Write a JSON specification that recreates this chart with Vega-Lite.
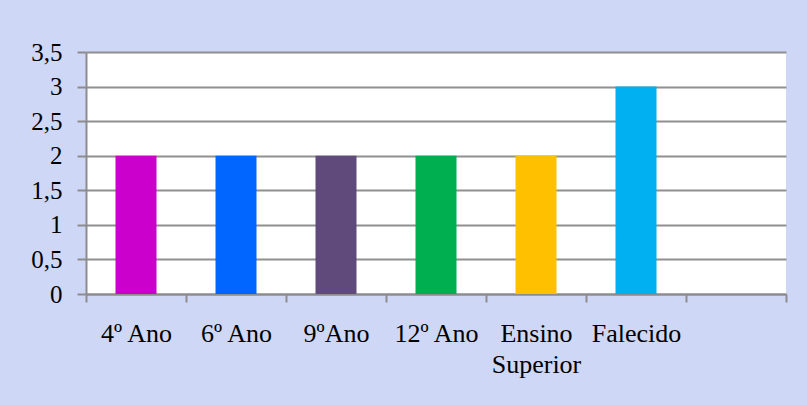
{
  "$schema": "https://vega.github.io/schema/vega-lite/v6.json",
  "autosize": {"type": "none"},
  "padding": {"left": 86, "top": 52, "right": 21, "bottom": 111},
  "width": 700,
  "height": 242,
  "background": "#cfd7f7",
  "config": {
    "font": "'Liberation Serif', 'Times New Roman', 'DejaVu Serif', serif",
    "view": {"fill": "#ffffff", "stroke": null},
    "axis": {
      "labelFont": "'Liberation Serif', 'Times New Roman', 'DejaVu Serif', serif",
      "labelColor": "#000000",
      "domainColor": "#8c8c8c",
      "domainWidth": 2,
      "tickColor": "#8c8c8c",
      "tickWidth": 2,
      "gridColor": "#8f8f8f",
      "gridWidth": 2,
      "title": null
    }
  },
  "data": {
    "values": [
      {"categoria": "4º Ano", "valor": 2},
      {"categoria": "6º Ano", "valor": 2},
      {"categoria": "9ºAno", "valor": 2},
      {"categoria": "12º Ano", "valor": 2},
      {"categoria": "Ensino Superior", "valor": 2},
      {"categoria": "Falecido", "valor": 3}
    ]
  },
  "mark": {"type": "bar", "width": {"band": 0.41}},
  "encoding": {
    "x": {
      "field": "categoria",
      "type": "nominal",
      "sort": null,
      "scale": {
        "domain": ["4º Ano", "6º Ano", "9ºAno", "12º Ano", "Ensino Superior", "Falecido", " "],
        "paddingInner": 0,
        "paddingOuter": 0
      },
      "axis": {
        "labelAngle": 0,
        "labelFontSize": 26,
        "labelBaseline": "top",
        "labelPadding": 18,
        "labelLineHeight": 31,
        "labelExpr": "datum.label == 'Ensino Superior' ? ['Ensino', 'Superior'] : datum.label",
        "tickBand": "extent",
        "tickSize": 8,
        "grid": false
      }
    },
    "y": {
      "field": "valor",
      "type": "quantitative",
      "scale": {"domain": [0, 3.5], "nice": false},
      "axis": {
        "values": [0, 0.5, 1, 1.5, 2, 2.5, 3, 3.5],
        "labelExpr": "replace(toString(datum.value), '.', ',')",
        "labelFontSize": 25,
        "labelPadding": 15,
        "tickSize": 9,
        "grid": true
      }
    },
    "color": {
      "field": "categoria",
      "type": "nominal",
      "legend": null,
      "scale": {
        "domain": ["4º Ano", "6º Ano", "9ºAno", "12º Ano", "Ensino Superior", "Falecido"],
        "range": ["#cc00cc", "#0066ff", "#604a7b", "#00b050", "#ffc000", "#00b0f0"]
      }
    }
  }
}
